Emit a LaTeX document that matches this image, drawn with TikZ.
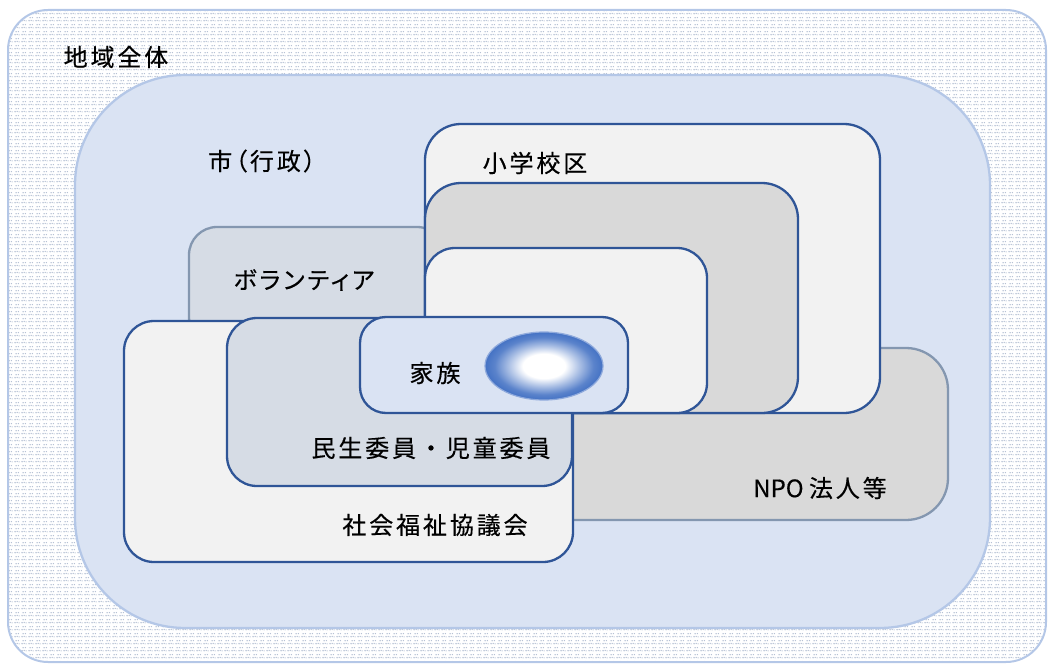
\documentclass[tikz,border=0pt]{standalone}
\usepackage{fontspec}
\newfontfamily\jp{Noto Sans CJK JP}[LetterSpace=12,FakeBold=0.4]
\newfontfamily\jpp{Noto Sans CJK JP}[LetterSpace=12,RawFeature=+palt,FakeBold=0.4]
\newfontfamily\jpl{Noto Sans CJK JP}[FakeBold=0.4]
\usetikzlibrary{patterns}
\definecolor{dkblue}{HTML}{2F5597}
\definecolor{gblue}{HTML}{8497B0}
\definecolor{lblue}{HTML}{B4C7E7}
\definecolor{fwhite}{HTML}{F2F2F2}
\definecolor{fgrey}{HTML}{D9D9D9}
\definecolor{fbg}{HTML}{D6DCE5}
\definecolor{fbl}{HTML}{DAE3F3}
\definecolor{dotc}{HTML}{8C9EBC}
\definecolor{egg}{HTML}{4472C4}
\pgfdeclarepatternformonly{mydots}{\pgfpointorigin}{\pgfpoint{7pt}{7pt}}{\pgfpoint{7pt}{7pt}}{%
  \pgfpathcircle{\pgfpoint{1.2pt}{1.5pt}}{0.9pt}%
  \pgfpathcircle{\pgfpoint{3.6pt}{1.8pt}}{0.8pt}%
  \pgfpathcircle{\pgfpoint{5.8pt}{1.3pt}}{0.7pt}%
  \pgfpathcircle{\pgfpoint{2.4pt}{4.8pt}}{0.8pt}%
  \pgfpathcircle{\pgfpoint{5.0pt}{5.0pt}}{0.8pt}%
  \pgfusepath{fill}}
\pgfdeclareradialshading{eggshade}{\pgfpoint{0bp}{0bp}}{%
  color(0bp)=(white); color(9bp)=(white); color(15bp)=(egg!45); color(21bp)=(egg!88); color(25bp)=(egg); color(50bp)=(egg)}
\tikzset{
  dkbox/.style={draw=dkblue, line width=2.3pt, rounded corners=30pt},
  gbbox/.style={draw=gblue, line width=2.3pt, rounded corners=30pt},
  lbl/.style={inner sep=0pt, font=\jp\fontsize{24pt}{28pt}\selectfont, text=black},
  lblp/.style={inner sep=0pt, font=\jpp\fontsize{24pt}{28pt}\selectfont, text=black}
}
\begin{document}
\begin{tikzpicture}[x=1pt,y=-1pt]
\useasboundingbox (0,0) rectangle (1049,666);
% outer region
\fill[white, rounded corners=40pt] (8,10) rectangle (1046,662);
\fill[pattern=mydots, pattern color=dotc!70, rounded corners=40pt] (8,10) rectangle (1046,662);
\draw[lblue, line width=2pt, rounded corners=40pt] (8,10) rectangle (1046,662);
% city
\draw[lblue, fill=fbl, line width=2.3pt, rounded corners=110pt] (75,75) rectangle (990,628);
% volunteer
\draw[gbbox, fill=fbg, rounded corners=28pt] (189,227) rectangle (445,345);
% NPO
\draw[gbbox, fill=fgrey, rounded corners=42pt] (530,348) rectangle (948,520);
% school district stack
\draw[dkbox, fill=fwhite, rounded corners=36pt] (425,124) rectangle (880,413);
\draw[dkbox, fill=fgrey, rounded corners=36pt] (425,183) rectangle (798,413);
\draw[dkbox, fill=fwhite, rounded corners=30pt] (425,248) rectangle (707,413);
% social welfare council
\draw[dkbox, fill=fwhite] (124,321) rectangle (573,562);
% welfare commissioners
\draw[dkbox, fill=fbg] (227,318) rectangle (572,486);
% family
\draw[dkbox, fill=fbl, rounded corners=26pt] (360,317) rectangle (628,413);
% egg
\shade[shading=eggshade] (544,366) ellipse [x radius=59pt, y radius=34pt];
\draw[egg!60, line width=1.2pt] (544,366) ellipse [x radius=59pt, y radius=34pt];
% labels
\node[lbl] (tAll) at (116,57) {地域全体};
\node[lblp] (tCity) at (262,161) {市（行政）};
\node[lbl] (tSchool) at (535,163) {小学校区};
\node[lblp] (tVol) at (304,280) {ボランティア};
\node[lbl] (tFam) at (435,373) {家族};
\node[lbl] (tMin) at (431,448) {民生委員・児童委員};
\node[lbl] (tSoc) at (435,525) {社会福祉協議会};
\node[lbl] (tNPO) at (820,488) {{\jpl NPO }法人等};
\end{tikzpicture}
\end{document}
